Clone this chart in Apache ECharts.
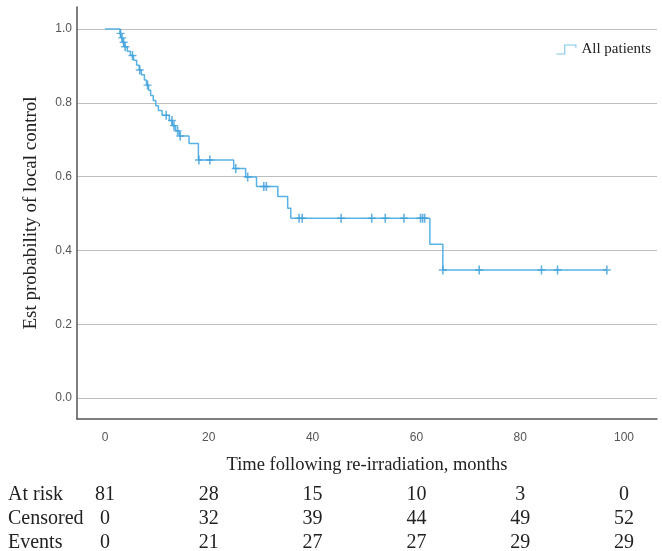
<!DOCTYPE html>
<html>
<head>
<meta charset="utf-8">
<script src="https://cdn.jsdelivr.net/npm/echarts@6/dist/echarts.min.js"></script>
<style>
	html, body { margin: 0; padding: 0; background: #fff; }
	#draw { width: 662px; height: 551px; }
</style>
</head>
<body>
<div id="draw"></div>
<script>
	// event times (months) and survival after each step
	var eventTimes = [0, 2.9, 3.2, 3.5, 3.8, 4.3, 4.9, 5.5, 6.1, 6.6, 7.0, 7.6, 8.0, 8.4, 8.8, 9.3, 9.8, 10.3, 11.0, 12.4, 13.0, 13.6, 14.3, 16.2, 18.0, 24.8, 27.1, 29.2, 33.3, 35.2, 35.8, 62.6, 65.1, 96.7];
	var survival = [1.0, 0.988, 0.976, 0.964, 0.952, 0.94, 0.928, 0.915, 0.902, 0.889, 0.876, 0.862, 0.848, 0.834, 0.82, 0.806, 0.792, 0.779, 0.766, 0.752, 0.738, 0.724, 0.71, 0.69, 0.645, 0.622, 0.599, 0.573, 0.546, 0.514, 0.487, 0.417, 0.347, 0.347];
	// censored times
	var censorTimes = [3.0, 3.3, 3.6, 3.9, 5.3, 6.7, 8.2, 11.8, 12.9, 13.3, 14.0, 14.5, 18.1, 20.2, 25.2, 27.5, 30.6, 31.1, 37.4, 38.0, 45.5, 51.4, 54.0, 57.6, 60.8, 61.2, 61.6, 65.1, 72.1, 84.1, 87.2, 96.7];

	// number at risk table
	var tableTimes = [0, 20, 40, 60, 80, 100];
	var atRisk = [81, 28, 15, 10, 3, 0];
	var censored = [0, 32, 39, 44, 49, 52];
	var events = [0, 21, 27, 27, 29, 29];
	var rowNames = ['At risk', 'Censored', 'Events'];

	var lineColor = '#58b2e5';

	function survAt(t) {
		var s = 1;
		for (var i = 0; i < eventTimes.length; i++) {
			if (eventTimes[i] <= t) s = survival[i];
		}
		return s;
	}

	var curve = eventTimes.map(function (t, i) { return [t, survival[i]]; });
	var marks = censorTimes.map(function (t) { return [t, survAt(t)]; });

	var myChart = echarts.init(document.getElementById('draw'));
	myChart.setOption({
		animation: false,
		grid: {
			top: 7,
			bottom: 132,
			left: 77,
			right: 5
		},
		legend: {
			data: [{
				name: 'All patients',
				icon: 'path://M0,8H7V0H18V3H17V1H8V9H0Z'
			}],
			right: 6,
			top: 37,
			itemWidth: 20,
			itemHeight: 10,
			itemGap: 3,
			textStyle: {
				fontFamily: 'Liberation Serif',
				fontSize: 15,
				color: '#222'
			}
		},
		xAxis: {
			type: 'value',
			min: -5.39,
			max: 106.36,
			splitNumber: 5,
			name: 'Time following re-irradiation, months',
			nameLocation: 'middle',
			nameGap: 37,
			nameTextStyle: {
				fontFamily: 'Liberation Serif',
				fontSize: 18.5,
				color: '#222'
			},
			axisLine: {
				onZero: false,
				lineStyle: { color: '#555', width: 1.5 }
			},
			axisTick: { show: false },
			axisLabel: {
				showMinLabel: false,
				showMaxLabel: false,
				margin: 13,
				color: '#555',
				fontFamily: 'Liberation Sans',
				fontSize: 12,
				formatter: function (v) { return Math.round(v) + ''; }
			},
			splitLine: { show: false }
		},
		yAxis: {
			type: 'value',
			min: -0.0569,
			max: 1.0596,
			splitNumber: 5,
			name: 'Est probability of local control',
			nameLocation: 'middle',
			nameGap: 36,
			nameTextStyle: {
				fontFamily: 'Liberation Serif',
				fontSize: 19,
				color: '#222'
			},
			axisLine: {
				show: true,
				onZero: false,
				lineStyle: { color: '#555', width: 1.5 }
			},
			axisTick: { show: false },
			axisLabel: {
				showMinLabel: false,
				showMaxLabel: false,
				margin: 5,
				color: '#555',
				fontFamily: 'Liberation Sans',
				fontSize: 12,
				formatter: function (v) { return v.toFixed(1); }
			},
			splitLine: {
				show: true,
				showMinLine: false,
				showMaxLine: false,
				lineStyle: { color: '#bdbdbd', width: 1 }
			}
		},
		series: [{
			name: 'All patients',
			type: 'line',
			step: 'end',
			data: curve,
			showSymbol: false,
			lineStyle: { color: lineColor, width: 1.5 },
			itemStyle: { color: '#7cc6ea' }
		}, {
			name: 'censored',
			type: 'scatter',
			data: marks,
			symbol: 'path://M3,0h1.5v9h-1.5zM0,3.8h7.5v1.4h-7.5z',
			symbolSize: [8, 9],
			itemStyle: { color: '#3f9fdb' },
			z: 3
		}]
	});

	// risk table under the axis, columns placed on the x axis ticks
	var rows = [atRisk, censored, events];
	var rowY = [495, 519, 543];
	var texts = [];
	rows.forEach(function (row, r) {
		texts.push({
			type: 'text',
			x: 8,
			y: rowY[r],
			style: {
				text: rowNames[r],
				fontFamily: 'Liberation Serif',
				fontSize: 20,
				fill: '#222',
				verticalAlign: 'middle'
			}
		});
		row.forEach(function (v, i) {
			var px = myChart.convertToPixel({ xAxisIndex: 0 }, tableTimes[i]);
			texts.push({
				type: 'text',
				x: px,
				y: rowY[r],
				style: {
					text: v + '',
					fontFamily: 'Liberation Serif',
					fontSize: 20,
					fill: '#222',
					align: 'center',
					verticalAlign: 'middle'
				}
			});
		});
	});
	myChart.setOption({ graphic: texts });
</script>
</body>
</html>
